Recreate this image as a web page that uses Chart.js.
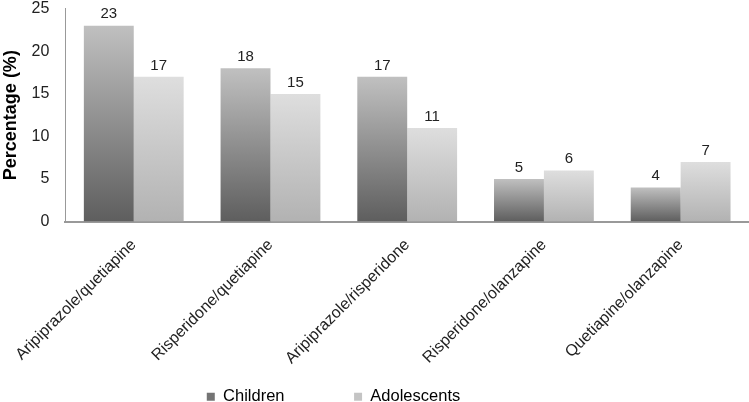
<!DOCTYPE html>
<html>
<head>
<meta charset="utf-8">
<script src="https://cdn.jsdelivr.net/npm/chart.js@4"></script>
<style>
  html, body { margin: 0; padding: 0; background: #fff; }
  #wrap { width: 749px; height: 402px; }
</style>
</head>
<body>
<div id="wrap"><canvas id="bar_chart"></canvas></div>
<script>
var categories = ["Aripiprazole/quetiapine", "Risperidone/quetiapine", "Aripiprazole/risperidone", "Risperidone/olanzapine", "Quetiapine/olanzapine"];
var children = [23, 18, 17, 5, 4];
var adolescents = [17, 15, 11, 6, 7];
var yTicks = [0, 5, 10, 15, 20, 25];

var FONT = "'Liberation Sans', Arial, sans-serif";

// vertical gradient per bar, light at top, dark at the base
function barGradient(top, bottom) {
    return function (ctx) {
        var chart = ctx.chart;
        if (!chart.chartArea || ctx.type !== 'data') return bottom;
        var y = chart.scales.y;
        var y0 = y.getPixelForValue(0);
        var y1 = y.getPixelForValue(ctx.raw);
        var g = chart.ctx.createLinearGradient(0, y1, 0, y0);
        g.addColorStop(0, top);
        g.addColorStop(1, bottom);
        return g;
    };
}

var valueLabels = {
    id: 'valueLabels',
    afterDatasetsDraw: function (chart) {
        var c = chart.ctx;
        c.save();
        c.font = "15px " + FONT;
        c.fillStyle = '#222';
        c.textAlign = 'center';
        c.textBaseline = 'bottom';
        chart.data.datasets.forEach(function (ds, i) {
            chart.getDatasetMeta(i).data.forEach(function (el, j) {
                c.fillText(ds.data[j], el.x, el.y - 4);
            });
        });
        c.restore();
    }
};

// nudge the legend a bit left of centre, like the original
var legendShift = {
    id: 'legendShift',
    afterLayout: function (chart) {
        chart.legend.left -= 41;
        chart.legend.right -= 41;
    }
};

new Chart(document.getElementById("bar_chart").getContext("2d"), {
    type: 'bar',
    data: {
        labels: categories,
        datasets: [{
            label: "Children",
            data: children,
            backgroundColor: barGradient('#c0c0c0', '#5e5e5e')
        }, {
            label: "Adolescents",
            data: adolescents,
            backgroundColor: barGradient('#dedede', '#b2b2b2')
        }]
    },
    options: {
        responsive: true,
        maintainAspectRatio: false,
        animation: false,
        categoryPercentage: 0.73,
        barPercentage: 1.0,
        layout: { padding: { top: 0, right: 0, left: 0, bottom: -13 } },
        plugins: {
            tooltip: { enabled: false },
            legend: {
                position: 'bottom',
                labels: {
                    boxWidth: 8,
                    boxHeight: 8,
                    padding: 10,
                    color: '#222',
                    font: { family: FONT, size: 16.5 },
                    generateLabels: function (chart) {
                        var fills = ['#747474', '#c4c4c4'];
                        var names = ["Children             ", "Adolescents"];
                        return chart.data.datasets.map(function (ds, i) {
                            return { text: names[i], fillStyle: fills[i], strokeStyle: fills[i], lineWidth: 0, datasetIndex: i };
                        });
                    }
                }
            }
        },
        scales: {
            x: {
                grid: { display: false },
                border: { color: '#999', width: 2 },
                afterFit: function (axis) { axis.height = 157; },
                ticks: {
                    minRotation: 45,
                    maxRotation: 45,
                    padding: 6,
                    color: '#222',
                    font: { family: FONT, size: 16 }
                }
            },
            y: {
                min: 0,
                max: 25,
                afterBuildTicks: function (axis) {
                    axis.ticks = yTicks.map(function (v) { return { value: v }; });
                },
                grid: { display: false },
                border: { color: '#999', width: 1 },
                ticks: {
                    padding: 8,
                    color: '#222',
                    font: { family: FONT, size: 16, lineHeight: 0.1 }
                },
                title: {
                    display: true,
                    text: 'Percentage (%)',
                    color: '#000',
                    padding: { top: 0, bottom: 2 },
                    font: { family: FONT, size: 18, weight: 'bold' }
                }
            }
        }
    },
    plugins: [valueLabels, legendShift]
});
</script>
</body>
</html>
